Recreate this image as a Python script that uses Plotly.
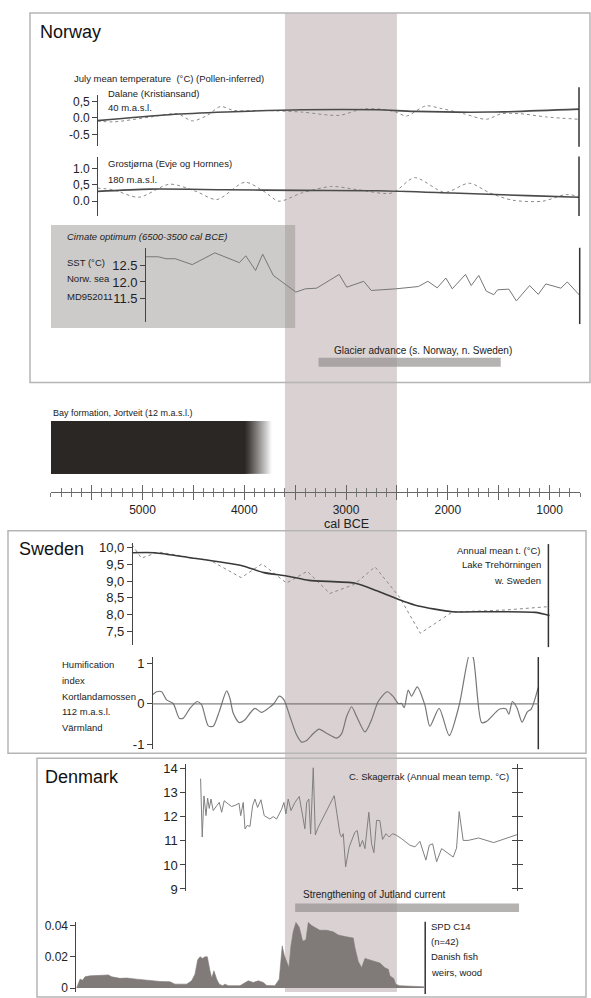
import plotly.graph_objects as go

W, H = 591, 998

# ---------------- data ----------------
time_range = [5900, 700]
time_ticks = [5500, 5000, 4500, 4000, 3500, 3000, 2500, 2000, 1500, 1000]
time_labels = ["", "5000", "", "4000", "", "3000", "", "2000", "", "1000"]

band_years = [3600, 2500]
climate_optimum_years = [5900, 3500]
glacier_advance_years = [3270, 1480]
jutland_current_years = [3500, 1300]
bay_formation_years = [5900, 4000, 3730]  # start, solid end, fade end

# Norway: Dalane (Kristiansand), July mean temperature anomaly
dal_solid_years = [5444, 4733, 4178, 3437, 2696, 2326, 1585, 711]
dal_solid_vals = [-0.08, 0.10, 0.18, 0.25, 0.25, 0.20, 0.18, 0.27]
dal_dot_years = [5444, 5289, 4919, 4659, 4511, 4363, 4233, 4104, 3807, 3437, 3067, 2844,
                 2659, 2511, 2407, 2215, 2067, 1844, 1622, 1474, 1289, 1030, 711]
dal_dot_vals = [-0.09, -0.12, 0.03, 0.13, -0.09, 0.08, 0.35, 0.23, 0.23, 0.18, 0.08, 0.27,
                0.27, 0.18, 0.06, 0.37, 0.29, 0.13, -0.04, 0.13, 0.13, 0.03, -0.04]

# Norway: Grostjørna
gro_solid_years = [5444, 4919, 4178, 3437, 2696, 1956, 1215, 711]
gro_solid_vals = [0.30, 0.37, 0.35, 0.33, 0.32, 0.25, 0.17, 0.12]
gro_dot_years = [5444, 5289, 5037, 4733, 4474, 4270, 3993, 3807, 3659, 3437, 3141, 2881,
                 2548, 2326, 2030, 1789, 1585, 1363, 1067, 844, 711]
gro_dot_vals = [0.40, 0.35, 0.12, 0.52, 0.30, 0.05, 0.58, 0.30, 0.00, 0.25, 0.45, 0.35,
                0.25, 0.72, 0.27, 0.55, 0.25, 0.03, 0.00, 0.20, 0.15]

# Norwegian sea SST MD952011
sst_years = [4967, 4844, 4770, 4678, 4511, 4289, 4048, 3985, 3889, 3819, 3715, 3493, 3400,
             3289, 3067, 2993, 2826, 2752, 2511, 2289, 2196, 2104, 2019, 1956, 1826, 1770,
             1696, 1622, 1548, 1511, 1400, 1326, 1196, 1111, 1037, 889, 826, 704]
sst_vals = [12.77, 12.77, 12.71, 12.71, 12.53, 12.89, 12.59, 12.80, 12.35, 12.85, 12.20, 11.69,
            11.79, 11.81, 12.23, 11.84, 12.02, 11.74, 11.79, 11.86, 12.02, 11.82, 12.12, 11.79,
            12.23, 11.89, 12.20, 11.72, 11.61, 11.76, 11.78, 11.42, 11.89, 11.62, 11.94, 11.81,
            12.00, 11.59]

# Sweden: Lake Trehörningen annual mean temperature
swe_solid_years = [5104, 4881, 4548, 4030, 3807, 3585, 3363, 2919, 2696, 2437, 2289, 1956,
                   1585, 1141, 1000]
swe_solid_vals = [9.84, 9.84, 9.70, 9.46, 9.25, 9.15, 9.02, 8.94, 8.71, 8.40, 8.26, 8.09,
                  8.09, 8.07, 7.98]
swe_dot_years = [5104, 5011, 4844, 4326, 4030, 3826, 3585, 3381, 3159, 2919, 2715, 2474,
                 2270, 1956, 1437, 1011]
swe_dot_vals = [10.08, 9.68, 9.86, 9.60, 9.10, 9.51, 8.94, 9.29, 8.63, 8.90, 9.42, 8.52,
                7.45, 8.08, 8.14, 8.24]

# Sweden: humification index Kortlandamossen
hum_years = [4904, 4861, 4812, 4763, 4698, 4639, 4599, 4534, 4462, 4419, 4354, 4305, 4246,
             4173, 4141, 4108, 4049, 3993, 3944, 3895, 3829, 3764, 3708, 3656, 3610, 3551,
             3486, 3436, 3387, 3322, 3265, 3191, 3093, 3043, 2994, 2945, 2896, 2814, 2749,
             2684, 2595, 2536, 2487, 2454, 2428, 2389, 2356, 2300, 2225, 2176, 2085, 1986,
             1888, 1783, 1751, 1668, 1619, 1494, 1430, 1400, 1365, 1320, 1270, 1220, 1179, 1112]
hum_vals = [0.22, 0.30, 0.30, 0.10, 0.01, -0.35, -0.35, -0.11, 0.06, -0.02, -0.54, -0.55, -0.19,
            0.32, 0.14, -0.23, -0.46, -0.39, -0.23, -0.11, -0.21, -0.11, 0.01, 0.19, 0.10, -0.31,
            -0.76, -0.94, -0.90, -0.73, -0.62, -0.72, -0.84, -0.73, -0.31, -0.07, -0.31, -0.69, -0.39,
            0.06, 0.30, 0.18, 0.01, 0.01, -0.09, 0.34, 0.19, 0.42, -0.03, -0.55, -0.11, -0.78,
            -0.03, 1.25, 1.15, -0.46, -0.43, -0.13, -0.12, -0.25, 0.06, -0.10, -0.45, -0.20, -0.12, 0.40]

# Denmark: C. Skagerrak annual mean temperature
dk_years = [4429, 4413, 4396, 4376, 4360, 4344, 4327, 4305, 4271, 4246, 4222, 4197, 4157, 4124,
            4082, 4052, 4035, 4010, 3993, 3971, 3944, 3918, 3895, 3869, 3836, 3804, 3748, 3715,
            3682, 3633, 3610, 3591, 3568, 3541, 3502, 3460, 3404, 3387, 3365, 3348, 3322, 3302,
            3273, 3116, 3060, 3043, 3027, 3004, 2969, 2913, 2890, 2864, 2838, 2814, 2776, 2749,
            2726, 2700, 2668, 2641, 2608, 2575, 2543, 2503, 2454, 2372, 2323, 2274, 2215, 2182,
            2149, 2110, 2061, 2006, 1947, 1914, 1888, 1849, 1800, 1698, 1549, 1319]
dk_vals = [13.59, 11.16, 12.87, 12.05, 12.78, 12.35, 12.74, 12.26, 12.46, 12.60, 12.19, 12.67,
           12.53, 12.43, 12.49, 12.57, 12.05, 12.60, 11.50, 11.64, 11.60, 12.46, 12.74, 12.39,
           12.71, 12.05, 11.91, 12.01, 11.91, 12.32, 12.60, 12.12, 12.74, 12.26, 12.60, 12.85,
           11.50, 12.60, 12.74, 11.29, 14.04, 11.25, 11.57, 12.88, 11.30, 11.16, 11.30, 9.92,
           10.75, 11.36, 11.43, 10.75, 11.02, 10.68, 12.19, 10.88, 10.51, 11.85, 11.85, 11.06,
           11.30, 11.16, 11.30, 11.23, 11.09, 10.82, 10.75, 10.98, 10.20, 10.82, 10.88, 10.13,
           10.68, 10.51, 10.33, 10.70, 12.22, 11.02, 11.02, 11.12, 10.93, 11.26]

# Denmark: SPD C14, fish weirs
spd_years = [5647, 5631, 5614, 5588, 5565, 5516, 5450, 5385, 5336, 5303, 5221, 5155, 5057, 4959,
             4828, 4730, 4681, 4566, 4517, 4484, 4458, 4435, 4409, 4386, 4363, 4337, 4320, 4298,
             4271, 4246, 4212, 4190, 4157, 4042, 3993, 3961, 3912, 3862, 3814, 3780, 3699, 3656,
             3627, 3607, 3584, 3561, 3541, 3519, 3492, 3460, 3426, 3394, 3371, 3338, 3257, 3191,
             3126, 3077, 3011, 2929, 2913, 2880, 2847, 2814, 2766, 2716, 2667, 2618, 2585, 2569,
             2530, 2512, 2476, 2235]
spd_vals = [0.0, 0.0036, 0.0057, 0.0050, 0.0072, 0.0078, 0.0078, 0.0082, 0.0084, 0.0072, 0.0062,
            0.0064, 0.0057, 0.0050, 0.0042, 0.0040, 0.0025, 0.0025, 0.0046, 0.0089, 0.018, 0.020,
            0.019, 0.020, 0.020, 0.011, 0.0064, 0.011, 0.0057, 0.0025, 0.0015, 0.0025, 0.0015,
            0.0015, 0.0036, 0.0046, 0.0036, 0.0046, 0.0036, 0.0017, 0.0015, 0.0057, 0.027, 0.021,
            0.017, 0.013, 0.027, 0.036, 0.042, 0.039, 0.030, 0.031, 0.042, 0.040, 0.037, 0.037,
            0.036, 0.034, 0.033, 0.032, 0.026, 0.017, 0.013, 0.019, 0.018, 0.017, 0.016, 0.013,
            0.012, 0.0078, 0.0060, 0.0025, 0.0015, 0.0008]

# ---------------- helpers ----------------
def pxx(x):
    return x / W

def pyy(y):
    return 1 - y / H

def dom(top, bottom):
    return [pyy(bottom), pyy(top)]

FONT = "Liberation Sans, Arial, sans-serif"
AX = "#444"
DARK = "#4a4a4a"

fig = go.Figure()

# ---------------- traces ----------------
def line(xs, ys, yax, color, width, dash="solid", shape="linear", smoothing=1.0):
    fig.add_trace(go.Scatter(x=xs, y=ys, xaxis="x", yaxis=yax, mode="lines",
                             line=dict(color=color, width=width, dash=dash, shape=shape,
                                       smoothing=smoothing),
                             showlegend=False, hoverinfo="skip"))

line(dal_dot_years, dal_dot_vals, "y", "#8a8a8a", 1, "dot", "spline", 0.8)
line(dal_solid_years, dal_solid_vals, "y", DARK, 1.6, "solid", "spline", 0.8)
line(gro_dot_years, gro_dot_vals, "y2", "#8a8a8a", 1, "dot", "spline", 0.8)
line(gro_solid_years, gro_solid_vals, "y2", DARK, 1.6, "solid", "spline", 0.8)
line(sst_years, sst_vals, "y3", "#777", 1)
line(swe_dot_years, swe_dot_vals, "y4", "#8a8a8a", 1, "dot")
line(swe_solid_years, swe_solid_vals, "y4", "#3a3a3a", 1.6, "solid", "spline", 0.6)
line(hum_years, hum_vals, "y5", "#777", 1.2, "solid", "spline", 0.7)
line(dk_years, dk_vals, "y6", "#808080", 1)
fig.add_trace(go.Scatter(x=spd_years, y=spd_vals, xaxis="x", yaxis="y8", mode="lines",
                         fill="tozeroy", fillcolor="rgb(128,122,120)",
                         line=dict(color="rgb(128,122,120)", width=0.6),
                         showlegend=False, hoverinfo="skip"))
# dummy traces so that overlay axes are drawn
for xa, ya in [("x2", "y"), ("x", "y7"), ("x", "y9")]:
    fig.add_trace(go.Scatter(x=[None], y=[None], xaxis=xa, yaxis=ya, mode="lines",
                             showlegend=False, hoverinfo="skip"))

# ---------------- axes ----------------
xdom = [pxx(50.9), pxx(580.1)]
xpos = pyy(493)

layout_axes = dict(
    xaxis=dict(domain=xdom, range=time_range, anchor="free", position=xpos,
               showline=True, linecolor="#666", linewidth=1, showgrid=False, zeroline=False,
               tickmode="array", tickvals=time_ticks, ticktext=time_labels,
               ticks="outside", ticklen=7, tickcolor="#666", tickwidth=1,
               tickfont=dict(family=FONT, size=12, color="#222"),
               minor=dict(tickmode="linear", tick0=0, dtick=100, ticks="outside",
                          ticklen=4, tickcolor="#777", showgrid=False)),
    xaxis2=dict(overlaying="x", range=time_range, anchor="free", position=xpos,
                showline=False, showgrid=False, zeroline=False, showticklabels=False,
                tickmode="array", tickvals=time_ticks, ticks="inside", ticklen=7,
                tickcolor="#666",
                minor=dict(tickmode="linear", tick0=0, dtick=100, ticks="inside",
                           ticklen=4, tickcolor="#777", showgrid=False)),
)

def yax(domain, rng, pos, tickvals, ticktext, size=12, ticklen=5):
    return dict(domain=domain, range=rng, anchor="free", position=pxx(pos),
                showline=True, linecolor=AX, linewidth=1, showgrid=False, zeroline=False,
                tickmode="array", tickvals=tickvals, ticktext=ticktext,
                ticks="outside", ticklen=ticklen, tickcolor=AX,
                tickfont=dict(family=FONT, size=size, color="#222"))

layout_axes["yaxis"] = yax(dom(93, 144), [-0.848, 0.697], 97.2,
                           [0.5, 0.0, -0.5], ["0,5", "0.0", "-0.5"])
layout_axes["yaxis2"] = yax(dom(155, 215), [-0.455, 1.364], 97.2,
                            [1.0, 0.5, 0.0], ["1.0", "0,5", "0.0"])
layout_axes["yaxis3"] = yax(dom(247, 322), [10.773, 13.045], 145.1,
                            [12.5, 12.0, 11.5], ["12.5", "12.0", "11.5"], size=13)
layout_axes["yaxis4"] = yax(dom(545, 648), [7.097, 10.126], 131.9,
                            [10.0, 9.5, 9.0, 8.5, 8.0, 7.5],
                            ["10,0", "9,5", "9,0", "8,5", "8,0", "7,5"], size=13)
layout_axes["yaxis5"] = yax(dom(660, 753), [-1.115, 1.154], 152.0,
                            [1, 0, -1], ["1", "0", "-1"], size=13)
layout_axes["yaxis6"] = yax(dom(768, 896), [8.92, 14.194], 185.4,
                            [9, 10, 11, 12, 13, 14], ["9", "10", "11", "12", "13", "14"], size=13)
layout_axes["yaxis7"] = dict(overlaying="y6", range=[8.92, 14.194], anchor="free",
                             position=pxx(517.2), side="right", showline=True, linecolor=AX,
                             showgrid=False, zeroline=False, showticklabels=False,
                             tickmode="array", tickvals=[9, 10, 11, 12, 13, 14],
                             ticks="outside", ticklen=5, tickcolor=AX)
layout_axes["yaxis9"] = dict(overlaying="y6", range=[8.92, 14.194], anchor="free",
                             position=pxx(517.2), side="right", showline=False,
                             showgrid=False, zeroline=False, showticklabels=False,
                             tickmode="array", tickvals=[9, 10, 11, 12, 13, 14],
                             ticks="inside", ticklen=5, tickcolor=AX)
layout_axes["yaxis8"] = yax(dom(927, 998), [-0.00254, 0.04254], 75.4,
                            [0.04, 0.02, 0.0], ["0.04", "0.02", "0"], size=12)

# ---------------- shapes ----------------
shapes = []
# highlighted band
shapes.append(dict(type="rect", xref="x", yref="paper", x0=band_years[0], x1=band_years[1],
                   y0=0, y1=pyy(10), fillcolor="rgba(160,140,142,0.40)", line_width=0,
                   layer="below"))
# panel boxes
for (l, t, r, b) in [(30, 10, 590, 383), (8, 532.5, 586, 757), (37, 762, 586, 1003)]:
    shapes.append(dict(type="rect", xref="paper", yref="paper", x0=pxx(l), x1=pxx(r),
                       y0=pyy(b), y1=pyy(t), line=dict(color="#b5b5b5", width=1.5),
                       fillcolor="rgba(0,0,0,0)", layer="below"))
# climate optimum grey box
shapes.append(dict(type="rect", xref="x", yref="paper", x0=climate_optimum_years[0],
                   x1=climate_optimum_years[1], y0=pyy(328), y1=pyy(224),
                   fillcolor="rgba(145,140,138,0.45)", line_width=0, layer="below"))
# glacier advance bar
shapes.append(dict(type="rect", xref="x", yref="paper", x0=glacier_advance_years[0],
                   x1=glacier_advance_years[1], y0=pyy(367), y1=pyy(358),
                   fillcolor="rgba(150,145,145,0.7)", line_width=0, layer="below"))
# Jutland current bar
shapes.append(dict(type="rect", xref="x", yref="paper", x0=jutland_current_years[0],
                   x1=jutland_current_years[1], y0=pyy(917.3), y1=pyy(908.7),
                   fillcolor="rgba(150,145,145,0.7)", line_width=0, layer="below"))
# bay formation bar: stacked translucent layers give a linear fade at its right end
nfade = 40
step = (bay_formation_years[1] - bay_formation_years[2]) / nfade
for k in range(1, nfade + 1):
    end = bay_formation_years[2] + (k - 1) * step
    alpha = 1.0 / (nfade - k + 1)
    shapes.append(dict(type="rect", xref="x", yref="paper",
                       x0=bay_formation_years[0], x1=end,
                       y0=pyy(475), y1=pyy(421.7),
                       fillcolor=f"rgba(43,39,37,{alpha:.4f})", line_width=0))
# right-hand frame lines of the panels
for (x, t, b) in [(579, 85, 145), (579, 155, 215), (579.7, 247, 324), (548.4, 546, 650),
                  (538.3, 660, 753), (425.2, 927, 1000)]:
    shapes.append(dict(type="line", xref="paper", yref="paper", x0=pxx(x), x1=pxx(x),
                       y0=pyy(b), y1=pyy(t), line=dict(color="#333", width=1.5)))
# humification zero line
shapes.append(dict(type="line", xref="paper", yref="y5", x0=pxx(152), x1=pxx(539),
                   y0=0, y1=0, line=dict(color="#666", width=1)))

# ---------------- annotations ----------------
ann = []

def text(t, x, y, size=9.5, anchor="left", italic=False, color="#222"):
    if italic:
        t = f"<i>{t}</i>"
    ann.append(dict(text=t, x=pxx(x), y=pyy(y), xref="paper", yref="paper",
                    xanchor=anchor, yanchor="middle", showarrow=False,
                    font=dict(family=FONT, size=size, color=color)))

text("Norway", 37.7, 29, size=18, color="#111")
text("July mean temperature  (°C) (Pollen-inferred)", 72.4, 76)
text("Dalane (Kristiansand)", 105.5, 91)
text("40 m.a.s.l.", 105.5, 105)
text("Grostjørna (Evje og Hornnes)", 105.5, 162)
text("180 m.a.s.l.", 105.5, 178)
text("Cimate optimum (6500-3500 cal BCE)", 64.8, 236, italic=True)
text("SST (°C)", 64.8, 262)
text("Norw. sea", 64.8, 278)
text("MD952011", 64.8, 296)
text("Glacier advance (s. Norway, n. Sweden)", 331.7, 351, size=10)
text("Bay formation, Jortveit (12 m.a.s.l.)", 50.9, 414, size=9)
text("cal BCE", 346, 526, size=12.5, anchor="center")
text("Sweden", 17, 551, size=18, color="#111")
text("Annual mean t. (°C)", 542.8, 552, anchor="right")
text("Lake Trehörningen", 542.8, 567, anchor="right")
text("w. Sweden", 542.8, 583, anchor="right")
for lbl, yy in [("Humification", 668), ("index", 684), ("Kortlandamossen", 700),
                ("112 m.a.s.l.", 715), ("Värmland", 731)]:
    text(lbl, 59.6, yy)
text("Denmark", 43.3, 781, size=18, color="#111")
text("C. Skagerrak (Annual mean temp. °C)", 510.7, 781, anchor="right")
text("Strengthening of Jutland current", 300.8, 900, size=10)
for lbl, yy in [("SPD C14", 932), ("(n=42)", 947), ("Danish fish", 962), ("weirs, wood", 978)]:
    text(lbl, 429, yy)

fig.update_layout(width=W, height=H, margin=dict(l=0, r=0, t=0, b=0),
                  paper_bgcolor="white", plot_bgcolor="rgba(0,0,0,0)",
                  showlegend=False, shapes=shapes, annotations=ann,
                  font=dict(family=FONT), **layout_axes)

fig.write_html("out.html",
               config={"displayModeBar": False},
               post_script="document.body.style.margin='0';"
                           "document.body.style.overflow='hidden';"
                           "document.documentElement.style.overflow='hidden';")
